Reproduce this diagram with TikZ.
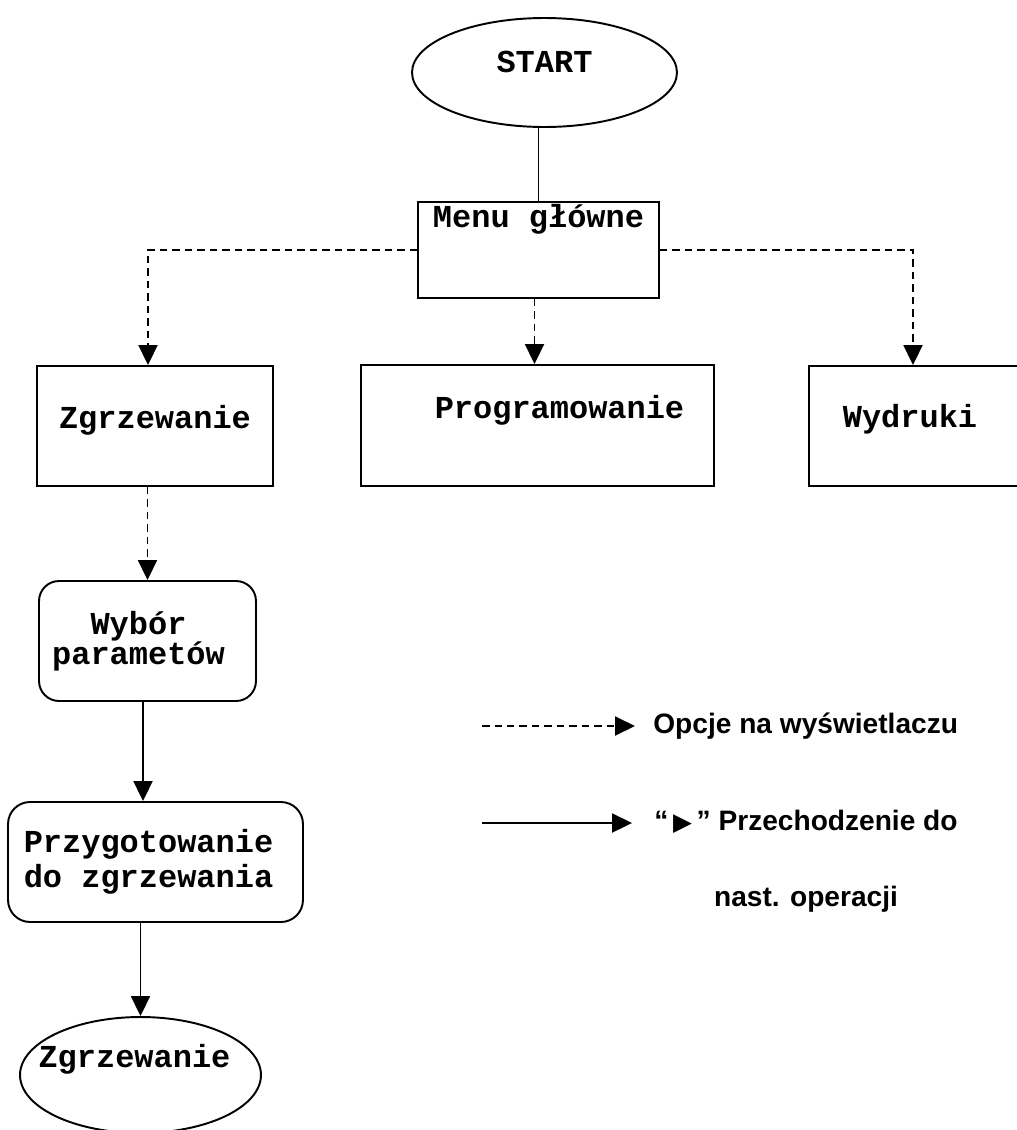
\documentclass[tikz,border=0pt]{standalone}
\usepackage{fontspec}
\usepackage{tikz}
\usetikzlibrary{shapes.geometric,arrows.meta}
\newfontfamily\courfont{Liberation Mono}
\newfontfamily\arialfont{Liberation Sans}
\newfontfamily\dejafont{DejaVu Sans}

\begin{document}
\begin{tikzpicture}[x=0.02cm, y=-0.02cm,
        line/.style={line width=1.1pt},
        opt/.style={line, ->, dash pattern=on 0.15cm off 0.1cm},
        go/.style={line, ->},
        leg/.style={inner sep=0pt, font=\arialfont\bfseries\fontsize{16}{19}\selectfont}]
        \useasboundingbox (0,0) rectangle (1017,1130);
                \begin{scope}[every node/.style={draw, line width=1.1pt, font=\courfont\bfseries\fontsize{18.2}{20}\selectfont}]
                        \node[ellipse, minimum width=5.3cm, minimum height=2.18cm, text height=0.3cm, text depth=0.3cm] (Start) at (544.5,72.5) {START};
                        \node[rectangle, inner ysep=0pt, minimum width=4.82cm, text height=0.5cm, text depth=1.42cm] (Menu) at (538.5,250) {Menu główne};
                        \node[rectangle, inner ysep=0pt, minimum width=4.72cm, text height=1.24cm, text depth=1.16cm] (Zg1) at (155,426) {Zgrzewanie};
                        \node[rectangle, inner ysep=0pt, minimum width=7.06cm, text height=1.06cm, text depth=1.36cm] (Prog) at (537.5,425.5) {\hspace*{0.88cm}Programowanie};
                        \node[rectangle, inner ysep=0pt, minimum width=4.32cm, text height=1.22cm, text depth=1.18cm] (Wyd) at (917,426) {Wydruki\hspace*{0.28cm}};
                        \node[rectangle, rounded corners=0.4cm, minimum width=4.34cm, minimum height=2.4cm, align=center] (Wyb) at (147.5,641) {Wybór\hspace*{0.36cm}\\[-3pt]parametów\hspace*{0.36cm}};
                        \node[rectangle, rounded corners=0.44cm, minimum width=5.9cm, minimum height=2.4cm, align=center] (Prz) at (155.5,862) {Przygotowanie\hspace*{0.28cm}\\do zgrzewania\hspace*{0.28cm}};
                        \node[ellipse, minimum width=4.82cm, minimum height=2.32cm, text height=0.3cm, text depth=0.62cm] (Zg2) at (140.5,1075) {\makebox[0pt]{Zgrzewanie\hspace*{0.24cm}}};
                \end{scope}
                \begin{scope}[>={Triangle[length=0.4cm,width=0.38cm]}]
                        \path[draw, line] (Menu.north) -- (Menu.north |- Start.south);
                        \path[draw, opt] (Menu.west) -| ([xshift=-0.14cm]Zg1.north);
                        \path[draw, opt] ([xshift=-0.08cm]Menu.south) -- ([xshift=-0.08cm]Menu.south |- Prog.north);
                        \path[draw, opt] (Menu.east) -| ([xshift=-0.08cm]Wyd.north);
                        \path[draw, opt] (Wyb.north |- Zg1.south) -- (Wyb.north);
                        \path[draw, go] ([xshift=-0.09cm]Wyb.south) -- ([xshift=-0.09cm]Wyb.south |- Prz.north);
                        \path[draw, go] (Zg2.north |- Prz.south) -- (Zg2.north);
                        % legenda
                        \coordinate (L1) at (482,726);
                        \coordinate (L2) at (482,823);
                        \node[leg, anchor=west] (Opt) at (653,726) {Opcje na wyświetlaczu};
                        \node[leg, align=center] (Go) at (806,861) {“\,{\dejafont\fontsize{14}{14}\selectfont ▶}\,” Przechodzenie do\\[0.86cm]nast. operacji};
                        \path[draw, opt, shorten >=0.36cm] (L1) -- (Opt.west);
                        \path[draw, go, shorten >=0.44cm] (L2) -- (L2 -| Go.west);
                \end{scope}
\end{tikzpicture}
\end{document}
